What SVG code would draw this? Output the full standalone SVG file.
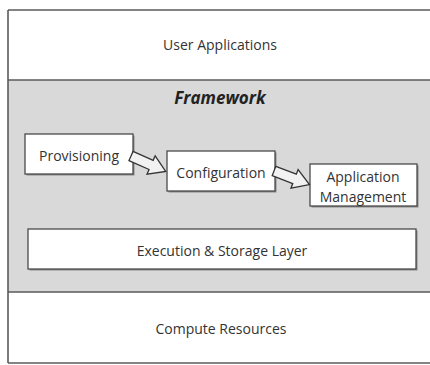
<svg xmlns="http://www.w3.org/2000/svg" width="430" height="365" viewBox="0 0 430 365">
  <style>
    .lbl { font-family: "Open Sans", Lato, "Liberation Sans", sans-serif; font-size: 14px; fill: #333333; text-anchor: middle; dominant-baseline: central; }
    .title { font-family: "Open Sans", Lato, "Liberation Sans", sans-serif; font-size: 17px; font-weight: bold; font-style: italic; fill: #222; text-anchor: middle; dominant-baseline: central; }
    .box { fill: #ffffff; stroke: #4a4a4a; stroke-width: 1.3; }
    .shadow { fill: #8a8a8a; }
    .frame { stroke: #5a5a5a; stroke-width: 1.6; fill: none; }
    .arrow { fill: #f2f2f2; stroke: #333; stroke-width: 1.3; stroke-linejoin: miter; }
  </style>
  <defs>
    <path id="blockArrow" d="M0,-5 L22,-5 L22,-10 L38,0 L22,10 L22,5 L0,5 Z"/>
  </defs>

  <rect x="0" y="0" width="430" height="365" fill="#ffffff"/>

  <!-- layer bands -->
  <g id="user-applications">
    <rect x="8" y="10" width="430" height="70" fill="#ffffff"/>
    <text class="lbl" x="220" y="44">User Applications</text>
  </g>

  <g id="framework">
    <rect x="8" y="80" width="430" height="212" fill="#d9d9d9"/>
    <text class="title" x="220" y="97">Framework</text>
  </g>

  <g id="compute-resources">
    <rect x="8" y="292" width="430" height="71" fill="#ffffff"/>
    <text class="lbl" x="221" y="328">Compute Resources</text>
  </g>

  <!-- outer frame and band dividers (open on the right) -->
  <g id="frame">
    <line class="frame" x1="8" y1="10" x2="430" y2="10"/>
    <line class="frame" x1="8" y1="10" x2="8" y2="363"/>
    <line class="frame" x1="8" y1="80" x2="430" y2="80"/>
    <line class="frame" x1="8" y1="292" x2="430" y2="292"/>
    <line class="frame" x1="8" y1="363" x2="430" y2="363"/>
  </g>

  <!-- framework components -->
  <g id="provisioning">
    <rect class="shadow" x="26.5" y="135.5" width="108" height="40"/>
    <rect class="box" x="25" y="134" width="108" height="40"/>
    <text class="lbl" x="79" y="155">Provisioning</text>
  </g>

  <g id="configuration">
    <rect class="shadow" x="168.5" y="152.5" width="108" height="40"/>
    <rect class="box" x="167" y="151" width="108" height="40"/>
    <text class="lbl" x="221" y="172">Configuration</text>
  </g>

  <g id="application-management">
    <rect class="shadow" x="311.5" y="165.5" width="107" height="42"/>
    <rect class="box" x="310" y="164" width="107" height="42"/>
    <text class="lbl" x="363" y="176">Application</text>
    <text class="lbl" x="363" y="196">Management</text>
  </g>

  <g id="execution-storage">
    <rect class="shadow" x="29.5" y="230.5" width="388" height="40"/>
    <rect class="box" x="28" y="229" width="388" height="40"/>
    <text class="lbl" x="222" y="250">Execution &amp; Storage Layer</text>
  </g>

  <!-- connectors -->
  <g id="connectors">
    <use href="#blockArrow" class="arrow" transform="translate(131,156) rotate(24)"/>
    <use href="#blockArrow" class="arrow" transform="translate(274,171) rotate(21)"/>
  </g>
</svg>
